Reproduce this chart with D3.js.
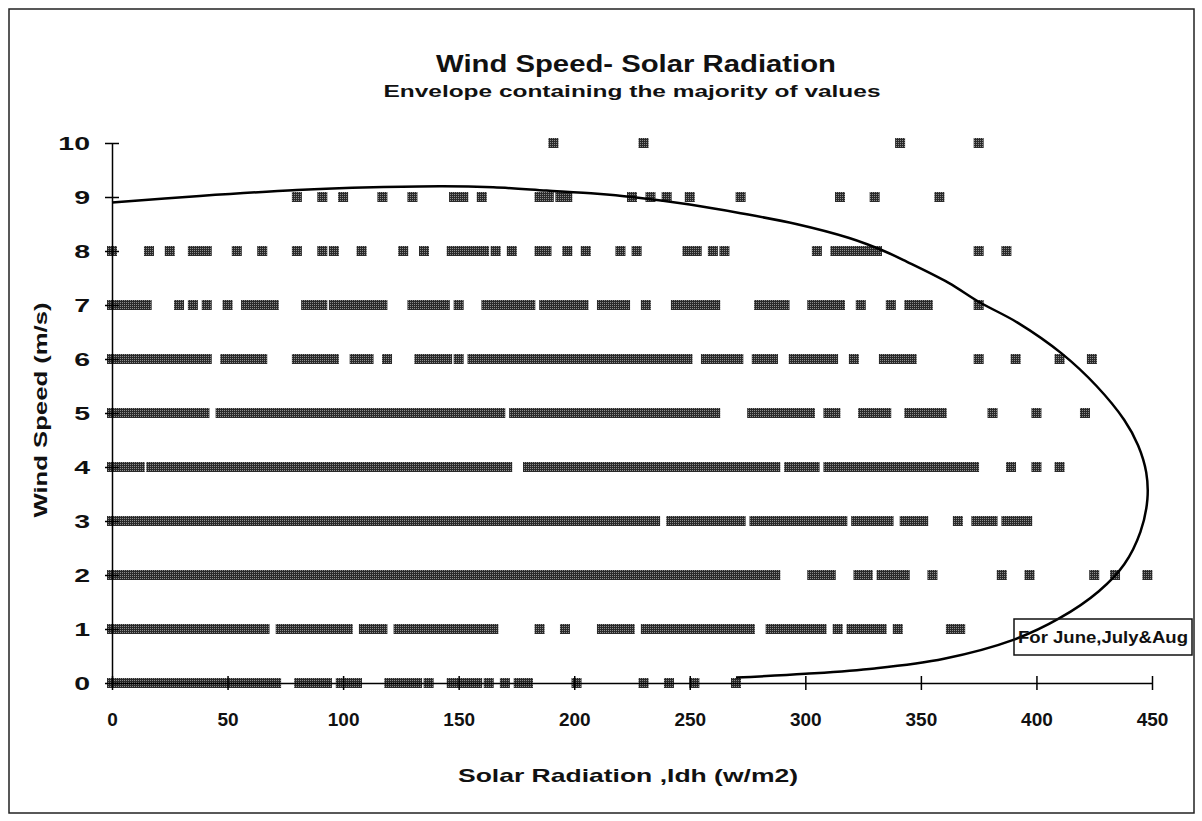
<!DOCTYPE html>
<html>
<head>
<meta charset="utf-8">
<script src="https://cdn.jsdelivr.net/npm/d3@7"></script>
<style>
  body { margin: 0; background: #fff; }
  svg text { font-family: "Liberation Sans", Arial, sans-serif; font-weight: bold; fill: #111; }
</style>
</head>
<body>
<svg></svg>
<script>
// chart values (single numbers = one point, [lo, hi] = a run of overlapping points)
const speeds = [0, 1, 2, 3, 4, 5, 6, 7, 8, 9, 10];
const xTicks = [0, 50, 100, 150, 200, 250, 300, 350, 400, 450];

const ws0 = [[0,32],[36,68],71,[81,93],[99,106],[120,132],137,[147,158],163,170,[176,180],201,230,241,252,270];
const ws1 = [[0,66],[73,102],[109,117],[124,165],185,196,[212,224],[231,276],[285,307],314,[320,333],340,[363,367]];
const ws2 = [[0,111],[115,131],[135,287],[303,311],[323,327],[333,343],355,385,397,425,434,448];
const ws3 = [[0,235],[242,272],[278,316],[322,336],[343,351],366,[374,381],[387,396]];
const ws4 = [[0,12],[17,171],[180,287],[293,304],[310,373],389,400,410];
const ws5 = [[0,40],[47,97],[100,168],[174,261],[277,302],[310,313],[325,335],[345,359],381,400,421];
const ws6 = [[0,41],[49,65],[80,96],[105,111],119,[133,145],150,[156,249],[257,271],[279,286],[295,312],321,[334,346],375,391,410,424];
const ws7 = [[0,15],29,35,41,50,[58,70],[84,91],[96,117],[130,144],150,[162,181],[187,204],[212,222],231,[244,261],[280,291],[303,315],324,337,[345,353],375];
const ws8 = [0,16,25,35,38,41,54,65,80,91,96,108,126,135,[147,161],166,173,185,188,197,205,220,227,249,253,260,265,305,[313,331],375,387];
const ws9 = [80,91,100,117,130,148,152,160,185,189,194,197,225,233,240,250,272,315,330,358];
const ws10 = [191,230,341,375];

// envelope line (radiation, wind speed)
const envX = [0,38,80,113,143,165,188,210,225,250,272,296,319,334,344,362,375,392,411,426,438,444,447.5,448,445,438,427,410,390,360,330,300,270];
const envY = [8.9,9.02,9.13,9.18,9.2,9.18,9.12,9.06,9.0,8.86,8.7,8.5,8.24,8.0,7.8,7.41,7.06,6.67,6.1,5.5,4.87,4.4,3.9,3.4,2.8,2.2,1.7,1.2,0.8,0.45,0.27,0.17,0.1];

const w = 1202;
const h = 821;
const m = 10; // marker size

let svg = d3.select("svg").attr("width", w).attr("height", h);

// pattern so the markers look speckled like the print
let defs = svg.append("defs");
let pat = defs.append("pattern").attr("id", "dots")
  .attr("width", 2).attr("height", 2).attr("patternUnits", "userSpaceOnUse");
pat.append("rect").attr("width", 2).attr("height", 2).attr("fill", "#2a2a2a");
pat.append("rect").attr("width", 1).attr("height", 1).attr("fill", "#8c8c8c");

// outer frame
svg.append("rect").attr("x", 9).attr("y", 9).attr("width", 1185).attr("height", 804)
  .attr("fill", "none").attr("stroke", "#222").attr("stroke-width", 1.5);

let xScale = d3.scaleLinear().domain([0, 450]).range([112, 1152]);
let yScale = d3.scaleLinear().domain([0, 10]).range([683, 143]);

const allRows = [ws0, ws1, ws2, ws3, ws4, ws5, ws6, ws7, ws8, ws9, ws10];
let runs = [];
speeds.forEach((s, i) => {
  allRows[i].forEach(d => {
    let r = Array.isArray(d) ? d : [d, d];
    runs.push({ speed: s, lo: r[0], hi: r[1] });
  });
});

// markers
svg.append("g").selectAll("rect")
  .data(runs)
  .enter()
  .append("rect")
  .attr("x", d => xScale(d.lo) - m / 2)
  .attr("y", d => yScale(d.speed) - m / 2)
  .attr("width", d => xScale(d.hi) - xScale(d.lo) + m)
  .attr("height", m)
  .attr("fill", "url(#dots)");

// envelope
let env = envX.map((x, i) => [x, envY[i]]);
svg.append("path")
  .datum(env)
  .attr("fill", "none")
  .attr("stroke", "#000")
  .attr("stroke-width", 2.5)
  .attr("d", d3.line().x(d => xScale(d[0])).y(d => yScale(d[1])).curve(d3.curveCatmullRom));

// axes, ticks crossing the line like the original
let xAxis = d3.axisBottom(xScale).tickValues(xTicks).tickSizeInner(7).tickSizeOuter(0).tickFormat(d3.format("d"));
let gx = svg.append("g").attr("transform", "translate(0," + yScale(0) + ")").call(xAxis);
gx.selectAll(".tick line").attr("y1", -7).attr("stroke-width", 1.5);
gx.select(".domain").attr("stroke-width", 1.5);
gx.selectAll("text").attr("y", 30).attr("font-size", 19).attr("font-family", null);

let yAxis = d3.axisLeft(yScale).tickValues(speeds).tickSizeInner(7).tickSizeOuter(0);
let gy = svg.append("g").attr("transform", "translate(" + xScale(0) + ",0)").call(yAxis);
gy.selectAll(".tick line").attr("x1", 7).attr("x2", -7).attr("stroke-width", 1.5);
gy.select(".domain").attr("stroke-width", 1.5);
gy.selectAll("text").attr("x", -22 / 1.5).attr("transform", "scale(1.5,1)")
  .attr("font-size", 19).attr("font-family", null);

// titles (the print uses a wide face, so stretch to the measured widths)
svg.append("text").attr("x", 636).attr("y", 72).attr("text-anchor", "middle")
  .attr("font-size", 23).attr("textLength", 400).attr("lengthAdjust", "spacingAndGlyphs")
  .text("Wind Speed- Solar Radiation");
svg.append("text").attr("x", 632).attr("y", 97).attr("text-anchor", "middle")
  .attr("font-size", 17).attr("textLength", 497).attr("lengthAdjust", "spacingAndGlyphs")
  .text("Envelope containing the majority of values");
svg.append("text").attr("x", 628).attr("y", 782).attr("text-anchor", "middle")
  .attr("font-size", 19).attr("textLength", 340).attr("lengthAdjust", "spacingAndGlyphs")
  .text("Solar Radiation ,Idh (w/m2)");
svg.append("text").attr("transform", "translate(47,410) rotate(-90)").attr("text-anchor", "middle")
  .attr("font-size", 19).attr("textLength", 215).attr("lengthAdjust", "spacingAndGlyphs")
  .text("Wind Speed (m/s)");

// note box
svg.append("rect").attr("x", 1014).attr("y", 619).attr("width", 178).attr("height", 36)
  .attr("fill", "none").attr("stroke", "#111").attr("stroke-width", 1.5);
svg.append("text").attr("x", 1103).attr("y", 643).attr("text-anchor", "middle")
  .attr("font-size", 16).attr("textLength", 170).attr("lengthAdjust", "spacingAndGlyphs")
  .text("For June,July&Aug");
</script>
</body>
</html>
